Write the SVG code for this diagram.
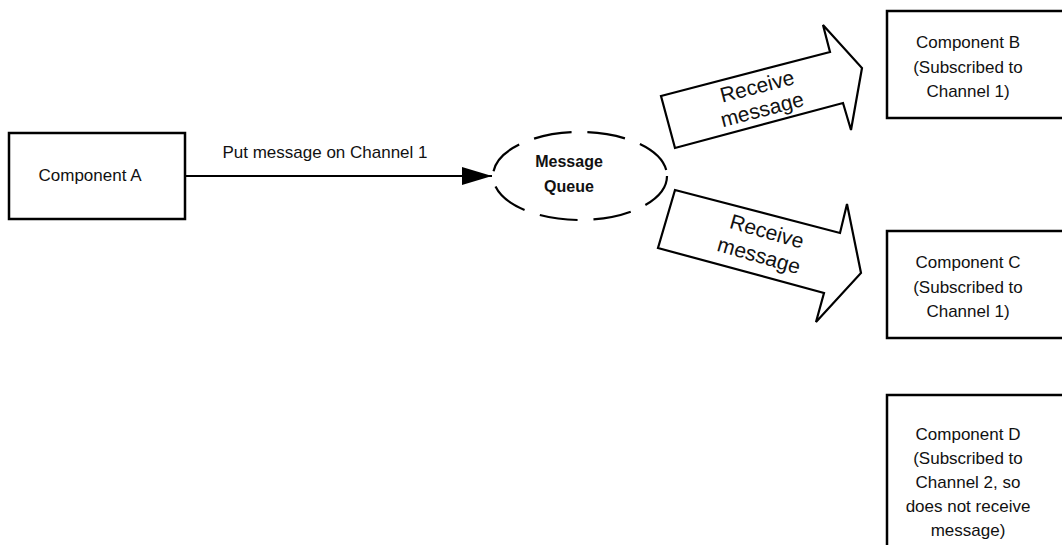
<svg xmlns="http://www.w3.org/2000/svg" width="1062" height="545" viewBox="0 0 1062 545">
<style>
.box{fill:#fff;stroke:#000;stroke-width:2.5}
.t{font-family:"Liberation Sans",Arial,sans-serif;font-size:17px;fill:#111;text-anchor:middle}
.big{font-family:"Liberation Sans",Arial,sans-serif;font-size:21px;fill:#111;text-anchor:middle}
.b{font-weight:bold;font-size:16px}
.blk{fill:#fff;stroke:#000;stroke-width:2.2;stroke-linejoin:miter}
</style>
<defs>
<marker id="ah" markerWidth="30" markerHeight="18" refX="30" refY="9" orient="auto" markerUnits="userSpaceOnUse">
<path d="M0,0 L30,9 L0,18 Z" fill="#000"/>
</marker>
</defs>
<rect width="1062" height="545" fill="#fff"/>
<g id="compA">
<rect class="box" x="9" y="133" width="176" height="86"/>
<text class="t" x="90" y="181">Component A</text>
</g>
<g id="queue">
<ellipse cx="580" cy="176" rx="87" ry="44" fill="#fff" stroke="#000" stroke-width="2.2" stroke-dasharray="38 16"/>
<text class="t b" x="569" y="167">Message</text>
<text class="t b" x="569" y="192">Queue</text>
</g>
<g id="compB">
<rect class="box" x="887" y="11" width="200" height="107"/>
<text class="t" x="968" y="48">Component B</text>
<text class="t" x="968" y="72.5">(Subscribed to</text>
<text class="t" x="968" y="97">Channel 1)</text>
</g>
<g id="compC">
<rect class="box" x="887" y="231" width="200" height="107"/>
<text class="t" x="968" y="268">Component C</text>
<text class="t" x="968" y="292.5">(Subscribed to</text>
<text class="t" x="968" y="317">Channel 1)</text>
</g>
<g id="compD">
<rect class="box" x="887" y="395" width="200" height="200"/>
<text class="t" x="968" y="440">Component D</text>
<text class="t" x="968" y="464">(Subscribed to</text>
<text class="t" x="968" y="488">Channel 2, so</text>
<text class="t" x="968" y="512">does not receive</text>
<text class="t" x="968" y="536">message)</text>
</g>
<g id="arrowB">
<polygon class="blk" points="661,96 830,52 823,25 862,68 851,130 843,103 675,148"/>
<text class="big" transform="translate(757,86) rotate(-14.6)" y="7.5">Receive</text>
<text class="big" transform="translate(763,113) rotate(-14.6)" y="3.5">message</text>
</g>
<g id="arrowC">
<polygon class="blk" points="675,190 840,233 847,204 861,273 816,322 824,293 658,248"/>
<text class="big" transform="translate(767,231) rotate(16)" y="7.5">Receive</text>
<text class="big" transform="translate(758,259) rotate(16)" y="3.5">message</text>
</g>
<g id="connectors">
<line x1="185" y1="176" x2="492" y2="176" stroke="#000" stroke-width="2.2" marker-end="url(#ah)"/>
<text class="t" x="325" y="158">Put message on Channel 1</text>
</g>
</svg>
